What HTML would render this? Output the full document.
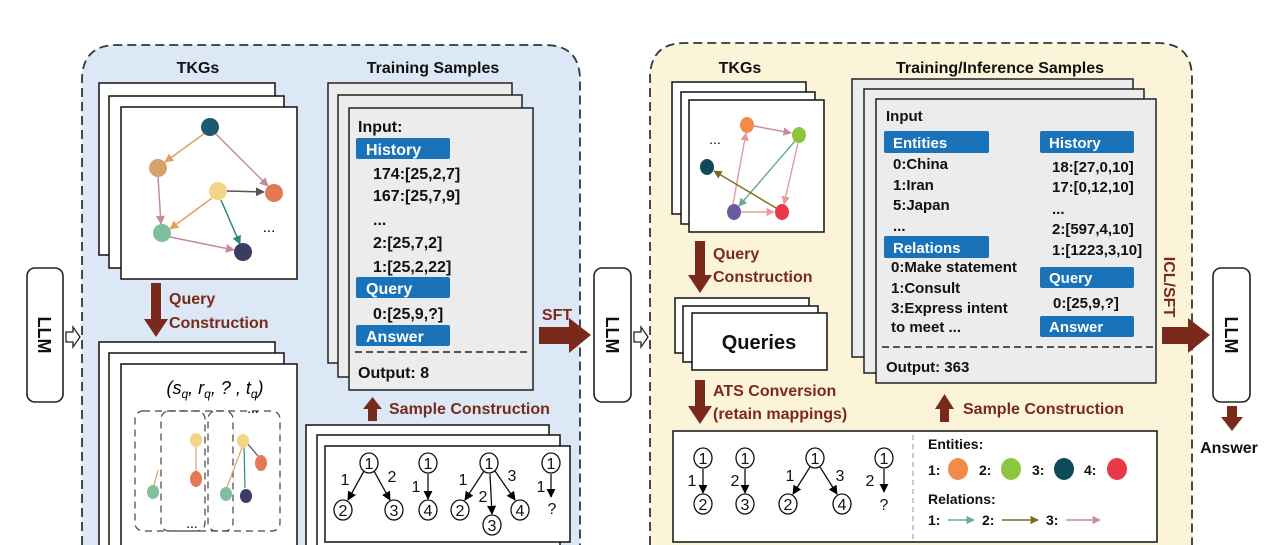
<!DOCTYPE html>
<html><head><meta charset="utf-8"><style>html,body{margin:0;padding:0;background:#fff;width:1280px;height:545px;overflow:hidden}svg{display:block}text{font-family:"Liberation Sans",sans-serif}</style></head><body>
<svg width="1280" height="545" viewBox="0 0 1280 545" xmlns="http://www.w3.org/2000/svg">
<defs>
<marker id="mk" viewBox="0 0 10 10" refX="9" refY="5" markerWidth="7" markerHeight="7" orient="auto"><path d="M0,0L10,5L0,10z" fill="#000"/></marker>
<marker id="mo" viewBox="0 0 10 10" refX="9" refY="5" markerWidth="6" markerHeight="6" orient="auto"><path d="M0,0L10,5L0,10z" fill="#e0a060"/></marker>
<marker id="mp" viewBox="0 0 10 10" refX="9" refY="5" markerWidth="6" markerHeight="6" orient="auto"><path d="M0,0L10,5L0,10z" fill="#c88a9a"/></marker>
<marker id="mg" viewBox="0 0 10 10" refX="9" refY="5" markerWidth="6" markerHeight="6" orient="auto"><path d="M0,0L10,5L0,10z" fill="#555"/></marker>
<marker id="mt" viewBox="0 0 10 10" refX="9" refY="5" markerWidth="6" markerHeight="6" orient="auto"><path d="M0,0L10,5L0,10z" fill="#2a8a7a"/></marker>
<marker id="ml" viewBox="0 0 10 10" refX="9" refY="5" markerWidth="6" markerHeight="6" orient="auto"><path d="M0,0L10,5L0,10z" fill="#6aa89a"/></marker>
<marker id="mv" viewBox="0 0 10 10" refX="9" refY="5" markerWidth="6" markerHeight="6" orient="auto"><path d="M0,0L10,5L0,10z" fill="#7a6a20"/></marker>
<marker id="mr" viewBox="0 0 10 10" refX="9" refY="5" markerWidth="6" markerHeight="6" orient="auto"><path d="M0,0L10,5L0,10z" fill="#e89a9a"/></marker>
</defs>

<path d="M82,545 L82,80 Q82,45 117,45 L545,45 Q580,45 580,80 L580,545" fill="#dce8f5" stroke="#2a3a3a" stroke-width="1.8" stroke-dasharray="9,5"/>
<path d="M650,545 L650,78 Q650,43 685,43 L1157,43 Q1192,43 1192,78 L1192,545" fill="#fcf4d9" stroke="#2a3a3a" stroke-width="1.8" stroke-dasharray="9,5"/>

<g fill="#fff" stroke="#222" stroke-width="1.6">
<rect x="27" y="268" width="36" height="134" rx="8"/>
<rect x="594" y="268" width="37" height="134" rx="8"/>
<rect x="1213" y="268" width="37" height="134" rx="8"/>
</g>
<g font-weight="bold" font-size="18" fill="#111">
<text transform="translate(38,335) rotate(90)" text-anchor="middle">LLM</text>
<text transform="translate(606,335) rotate(90)" text-anchor="middle">LLM</text>
<text transform="translate(1225,335) rotate(90)" text-anchor="middle">LLM</text>
</g>
<g fill="#fff" stroke="#222" stroke-width="1.3">
<path d="M66,332 L73,332 L73,327 L80,337 L73,347 L73,342 L66,342Z"/>
<path d="M634,332 L641,332 L641,327 L648,337 L641,347 L641,342 L634,342Z"/>
</g>

<g font-weight="bold" font-size="16" fill="#111">
<text x="198" y="73" text-anchor="middle">TKGs</text>
<text x="433" y="73" text-anchor="middle">Training Samples</text>
</g>
<g fill="#fff" stroke="#111" stroke-width="1.5">
<rect x="99" y="83" width="176" height="172"/>
<rect x="109" y="96" width="175" height="172"/>
<rect x="121" y="107" width="176" height="172"/>
</g>
<g stroke-width="1.5" fill="none">
<line x1="205" y1="133" x2="165" y2="162" stroke="#e0a060" marker-end="url(#mo)"/>
<line x1="215" y1="133" x2="268" y2="186" stroke="#c88a9a" marker-end="url(#mp)"/>
<line x1="158" y1="177" x2="161" y2="224" stroke="#c88a9a" marker-end="url(#mp)"/>
<line x1="227" y1="191" x2="264" y2="192" stroke="#555" marker-end="url(#mg)"/>
<line x1="212" y1="198" x2="170" y2="229" stroke="#e0a060" marker-end="url(#mo)"/>
<line x1="221" y1="200" x2="240" y2="244" stroke="#2a8a7a" marker-end="url(#mt)"/>
<line x1="170" y1="237" x2="234" y2="250" stroke="#c88a9a" marker-end="url(#mp)"/>
</g>
<ellipse cx="210" cy="127" rx="9" ry="9" fill="#1d5a72"/>
<ellipse cx="158" cy="168" rx="9" ry="9" fill="#d4a36a"/>
<ellipse cx="218" cy="191" rx="9" ry="9" fill="#f3d58a"/>
<ellipse cx="274" cy="193" rx="9" ry="9" fill="#e37a55"/>
<ellipse cx="162" cy="233" rx="9" ry="9" fill="#7fbf9c"/>
<ellipse cx="243" cy="252" rx="9" ry="9" fill="#3a3d60"/>
<text x="269" y="232" font-size="15" text-anchor="middle">...</text>

<rect x="151" y="283" width="10" height="38" fill="#7a2a1a"/>
<path d="M144,319 L168,319 L156,337Z" fill="#7a2a1a"/>
<g font-weight="bold" font-size="16" fill="#7a2a1a">
<text x="169" y="304">Query</text>
<text x="169" y="328">Construction</text>
</g>

<g fill="#fff" stroke="#111" stroke-width="1.5">
<path d="M99,545 L99,342 L275,342 L275,545"/>
<path d="M109,545 L109,353 L284,353 L284,545"/>
<path d="M121,545 L121,364 L297,364 L297,545"/>
</g>
<text x="215" y="394" font-family="Liberation Serif" font-style="italic" font-size="18" text-anchor="middle">(s<tspan font-size="12" dy="4">q</tspan><tspan dy="-4">, r</tspan><tspan font-size="12" dy="4">q</tspan><tspan dy="-4">, ? , t</tspan><tspan font-size="12" dy="4">q</tspan><tspan dy="-4">)</tspan></text>
<g fill="none" stroke="#444" stroke-width="1.2" stroke-dasharray="7,5">
<rect x="135" y="411" width="70" height="120" rx="8"/>
<rect x="161" y="411" width="72" height="120" rx="8"/>
<rect x="208" y="411" width="72" height="120" rx="8"/>
</g>
<line x1="158" y1="470" x2="154" y2="485" stroke="#e0a060" stroke-width="1.2"/>
<ellipse cx="153" cy="492" rx="6" ry="7" fill="#7fbf9c"/>
<line x1="196" y1="446" x2="196" y2="471" stroke="#e0a060" stroke-width="1.2"/>
<ellipse cx="196" cy="440" rx="6" ry="7" fill="#f3d58a"/>
<ellipse cx="196" cy="479" rx="6" ry="8" fill="#e37a55"/>
<line x1="243" y1="445" x2="227" y2="487" stroke="#e0a060" stroke-width="1.2"/>
<line x1="244" y1="445" x2="245" y2="488" stroke="#2a8a7a" stroke-width="1.2"/>
<line x1="247" y1="443" x2="258" y2="456" stroke="#555" stroke-width="1.2"/>
<ellipse cx="243" cy="441" rx="6" ry="7" fill="#f3d58a"/>
<ellipse cx="261" cy="463" rx="6" ry="8" fill="#e37a55"/>
<ellipse cx="226" cy="494" rx="6" ry="7" fill="#7fbf9c"/>
<ellipse cx="246" cy="496" rx="6" ry="7" fill="#3a3d60"/>
<text x="253" y="413" font-size="14" text-anchor="middle">...</text>
<text x="192" y="528" font-size="14" text-anchor="middle">...</text>

<g fill="#ececec" stroke="#222" stroke-width="1.5">
<rect x="328" y="83" width="184" height="280"/>
<rect x="338" y="95" width="184" height="282"/>
<rect x="349" y="108" width="184" height="282"/>
</g>
<g fill="#1a72b8">
<rect x="356" y="138" width="94" height="21" rx="2"/>
<rect x="356" y="277" width="94" height="21" rx="2"/>
<rect x="356" y="325" width="94" height="21" rx="2"/>
</g>
<g font-weight="bold" font-size="16" fill="#111">
<text x="358" y="132">Input:</text>
<text x="366" y="155" fill="#fff">History</text>
<text x="373" y="179">174:[25,2,7]</text>
<text x="373" y="201">167:[25,7,9]</text>
<text x="373" y="225">...</text>
<text x="373" y="248">2:[25,7,2]</text>
<text x="373" y="272">1:[25,2,22]</text>
<text x="366" y="294" fill="#fff">Query</text>
<text x="373" y="319">0:[25,9,?]</text>
<text x="366" y="342" fill="#fff">Answer</text>
<text x="358" y="378">Output: 8</text>
</g>
<line x1="355" y1="352" x2="528" y2="352" stroke="#222" stroke-width="1.5" stroke-dasharray="7,4"/>

<rect x="539" y="327" width="32" height="17" fill="#7a2a1a"/>
<path d="M569,318 L591,335 L569,353Z" fill="#7a2a1a"/>
<text x="557" y="320" font-weight="bold" font-size="16" fill="#7a2a1a" text-anchor="middle">SFT</text>

<rect x="368" y="407" width="9" height="14" fill="#7a2a1a"/>
<path d="M363,409 L382,409 L372.5,397Z" fill="#7a2a1a"/>
<text x="389" y="414" font-weight="bold" font-size="16" fill="#7a2a1a">Sample Construction</text>

<g fill="#fff" stroke="#111" stroke-width="1.5">
<path d="M306,545 L306,425 L549,425 L549,545"/>
<path d="M317,545 L317,435 L560,435 L560,545"/>
<rect x="325" y="446" width="245" height="96"/>
</g>
<g stroke="#111" stroke-width="1.3" fill="#fff">
<line x1="364" y1="471" x2="348" y2="500" marker-end="url(#mk)"/>
<line x1="374" y1="471" x2="390" y2="500" marker-end="url(#mk)"/>
<line x1="428" y1="474" x2="428" y2="499" marker-end="url(#mk)"/>
<line x1="484" y1="471" x2="465" y2="500" marker-end="url(#mk)"/>
<line x1="490" y1="474" x2="492" y2="514" marker-end="url(#mk)"/>
<line x1="495" y1="471" x2="515" y2="500" marker-end="url(#mk)"/>
<line x1="551" y1="474" x2="551" y2="497" marker-end="url(#mk)"/>
<ellipse cx="369" cy="463" rx="9" ry="10"/>
<ellipse cx="343" cy="510" rx="9" ry="10"/>
<ellipse cx="394" cy="510" rx="9" ry="10"/>
<ellipse cx="428" cy="463" rx="9" ry="10"/>
<ellipse cx="428" cy="510" rx="9" ry="10"/>
<ellipse cx="489" cy="463" rx="9" ry="10"/>
<ellipse cx="460" cy="510" rx="9" ry="10"/>
<ellipse cx="492" cy="525" rx="9" ry="10"/>
<ellipse cx="520" cy="510" rx="9" ry="10"/>
<ellipse cx="551" cy="463" rx="9" ry="10"/>
</g>
<g font-size="16" fill="#111" text-anchor="middle">
<text x="369" y="469">1</text><text x="343" y="516">2</text><text x="394" y="516">3</text>
<text x="428" y="469">1</text><text x="428" y="516">4</text>
<text x="489" y="469">1</text><text x="460" y="516">2</text><text x="492" y="531">3</text><text x="520" y="516">4</text>
<text x="551" y="469">1</text><text x="552" y="514">?</text>
<text x="345" y="485">1</text><text x="392" y="482">2</text><text x="416" y="492">1</text>
<text x="463" y="485">1</text><text x="483" y="502">2</text><text x="512" y="481">3</text><text x="541" y="492">1</text>
</g>

<g font-weight="bold" font-size="16" fill="#111">
<text x="740" y="73" text-anchor="middle">TKGs</text>
<text x="1000" y="73" text-anchor="middle">Training/Inference Samples</text>
</g>
<g fill="#fff" stroke="#111" stroke-width="1.5">
<rect x="672" y="82" width="134" height="132"/>
<rect x="681" y="92" width="134" height="132"/>
<rect x="689" y="100" width="135" height="132"/>
</g>
<g stroke-width="1.4">
<line x1="754" y1="126" x2="791" y2="133" stroke="#c88a9a" marker-end="url(#mp)"/>
<line x1="733" y1="204" x2="746" y2="133" stroke="#e89a9a" marker-end="url(#mr)"/>
<line x1="798" y1="143" x2="784" y2="204" stroke="#e89a9a" marker-end="url(#mr)"/>
<line x1="795" y1="141" x2="739" y2="206" stroke="#6aa89a" marker-end="url(#ml)"/>
<line x1="776" y1="208" x2="714" y2="171" stroke="#7a6a20" marker-end="url(#mv)"/>
<line x1="741" y1="212" x2="774" y2="212" stroke="#e89a9a" marker-end="url(#mr)"/>
</g>
<ellipse cx="747" cy="125" rx="7" ry="8" fill="#f28a4a"/>
<ellipse cx="799" cy="135" rx="7" ry="8" fill="#8cc63f"/>
<ellipse cx="707" cy="167" rx="7" ry="8" fill="#0f4a5a"/>
<ellipse cx="734" cy="212" rx="7" ry="8" fill="#6a5aa0"/>
<ellipse cx="782" cy="212" rx="7" ry="8" fill="#e8384a"/>
<text x="715" y="144" font-size="14" text-anchor="middle">...</text>

<rect x="695" y="241" width="10" height="36" fill="#7a2a1a"/>
<path d="M688,275 L712,275 L700,293Z" fill="#7a2a1a"/>
<g font-weight="bold" font-size="16" fill="#7a2a1a">
<text x="713" y="259">Query</text>
<text x="713" y="282">Construction</text>
</g>
<g fill="#fff" stroke="#111" stroke-width="1.5">
<rect x="675" y="298" width="134" height="55"/>
<rect x="683" y="306" width="135" height="56"/>
<rect x="692" y="313" width="135" height="57"/>
</g>
<text x="759" y="349" font-weight="bold" font-size="20" text-anchor="middle" fill="#111">Queries</text>

<rect x="695" y="380" width="10" height="28" fill="#7a2a1a"/>
<path d="M688,406 L712,406 L700,424Z" fill="#7a2a1a"/>
<g font-weight="bold" font-size="16" fill="#7a2a1a">
<text x="713" y="396">ATS Conversion</text>
<text x="713" y="419">(retain mappings)</text>
</g>

<g fill="#ececec" stroke="#222" stroke-width="1.5">
<rect x="852" y="79" width="281" height="278"/>
<rect x="864" y="89" width="280" height="284"/>
<rect x="876" y="99" width="280" height="284"/>
</g>
<g fill="#1a72b8">
<rect x="884" y="131" width="105" height="22" rx="2"/>
<rect x="1040" y="131" width="94" height="22" rx="2"/>
<rect x="884" y="236" width="105" height="22" rx="2"/>
<rect x="1040" y="267" width="94" height="21" rx="2"/>
<rect x="1040" y="316" width="94" height="21" rx="2"/>
</g>
<g font-weight="bold" font-size="15" fill="#111">
<text x="886" y="121">Input</text>
<text x="893" y="148" fill="#fff">Entities</text>
<text x="1049" y="148" fill="#fff">History</text>
<text x="893" y="169">0:China</text>
<text x="893" y="190">1:Iran</text>
<text x="893" y="210">5:Japan</text>
<text x="893" y="231">...</text>
<text x="893" y="253" fill="#fff">Relations</text>
<text x="891" y="272">0:Make statement</text>
<text x="891" y="293">1:Consult</text>
<text x="891" y="313">3:Express intent</text>
<text x="891" y="332">to meet ...</text>
<text x="1052" y="172">18:[27,0,10]</text>
<text x="1052" y="192">17:[0,12,10]</text>
<text x="1052" y="214">...</text>
<text x="1052" y="234">2:[597,4,10]</text>
<text x="1052" y="255">1:[1223,3,10]</text>
<text x="1049" y="283" fill="#fff">Query</text>
<text x="1053" y="308">0:[25,9,?]</text>
<text x="1049" y="332" fill="#fff">Answer</text>
<text x="886" y="372">Output: 363</text>
</g>
<line x1="882" y1="347" x2="1153" y2="347" stroke="#222" stroke-width="1.5" stroke-dasharray="7,4"/>

<text transform="translate(1164,287) rotate(90)" text-anchor="middle" font-weight="bold" font-size="16" fill="#7a2a1a">ICL/SFT</text>
<rect x="1162" y="327" width="28" height="17" fill="#7a2a1a"/>
<path d="M1188,318 L1210,335 L1188,353Z" fill="#7a2a1a"/>

<rect x="940" y="407" width="9" height="15" fill="#7a2a1a"/>
<path d="M935,409 L954,409 L944.5,394Z" fill="#7a2a1a"/>
<text x="963" y="414" font-weight="bold" font-size="16" fill="#7a2a1a">Sample Construction</text>

<rect x="1227" y="406" width="10" height="13" fill="#7a2a1a"/>
<path d="M1221,417 L1243,417 L1232,431Z" fill="#7a2a1a"/>
<text x="1229" y="453" font-weight="bold" font-size="16" fill="#111" text-anchor="middle">Answer</text>

<rect x="673" y="431" width="484" height="111" fill="#fff" stroke="#111" stroke-width="1.5"/>
<line x1="913" y1="435" x2="913" y2="540" stroke="#aaa" stroke-width="1.2" stroke-dasharray="5,4"/>
<g stroke="#111" stroke-width="1.3" fill="#fff">
<line x1="703" y1="469" x2="703" y2="493" marker-end="url(#mk)"/>
<line x1="745" y1="469" x2="745" y2="493" marker-end="url(#mk)"/>
<line x1="810" y1="467" x2="793" y2="494" marker-end="url(#mk)"/>
<line x1="820" y1="467" x2="837" y2="494" marker-end="url(#mk)"/>
<line x1="884" y1="469" x2="884" y2="492" marker-end="url(#mk)"/>
<ellipse cx="703" cy="458" rx="9" ry="10"/>
<ellipse cx="703" cy="504" rx="9" ry="10"/>
<ellipse cx="745" cy="458" rx="9" ry="10"/>
<ellipse cx="745" cy="504" rx="9" ry="10"/>
<ellipse cx="815" cy="458" rx="9" ry="10"/>
<ellipse cx="788" cy="504" rx="9" ry="10"/>
<ellipse cx="842" cy="504" rx="9" ry="10"/>
<ellipse cx="884" cy="458" rx="9" ry="10"/>
</g>
<g font-size="16" fill="#111" text-anchor="middle">
<text x="703" y="464">1</text><text x="703" y="510">2</text>
<text x="745" y="464">1</text><text x="745" y="510">3</text>
<text x="815" y="464">1</text><text x="788" y="510">2</text><text x="842" y="510">4</text>
<text x="884" y="464">1</text><text x="884" y="510">?</text>
<text x="692" y="486">1</text><text x="735" y="486">2</text><text x="790" y="481">1</text><text x="840" y="481">3</text><text x="870" y="486">2</text>
</g>
<g font-weight="bold" font-size="14" fill="#111">
<text x="928" y="449">Entities:</text>
<text x="928" y="475">1:</text><text x="979" y="475">2:</text><text x="1032" y="475">3:</text><text x="1084" y="475">4:</text>
<text x="928" y="504">Relations:</text>
<text x="928" y="525">1:</text><text x="982" y="525">2:</text><text x="1046" y="525">3:</text>
</g>
<ellipse cx="958" cy="469" rx="10" ry="11" fill="#f28a4a"/>
<ellipse cx="1011" cy="469" rx="10" ry="11" fill="#8cc63f"/>
<ellipse cx="1064" cy="469" rx="10" ry="11" fill="#0f4a5a"/>
<ellipse cx="1117" cy="469" rx="10" ry="11" fill="#e8384a"/>
<line x1="948" y1="520" x2="974" y2="520" stroke="#6aa89a" stroke-width="1.4" marker-end="url(#ml)"/>
<line x1="1002" y1="520" x2="1038" y2="520" stroke="#7a6a20" stroke-width="1.4" marker-end="url(#mv)"/>
<line x1="1066" y1="520" x2="1100" y2="520" stroke="#c88a9a" stroke-width="1.4" marker-end="url(#mp)"/>
</svg>
</body></html>
